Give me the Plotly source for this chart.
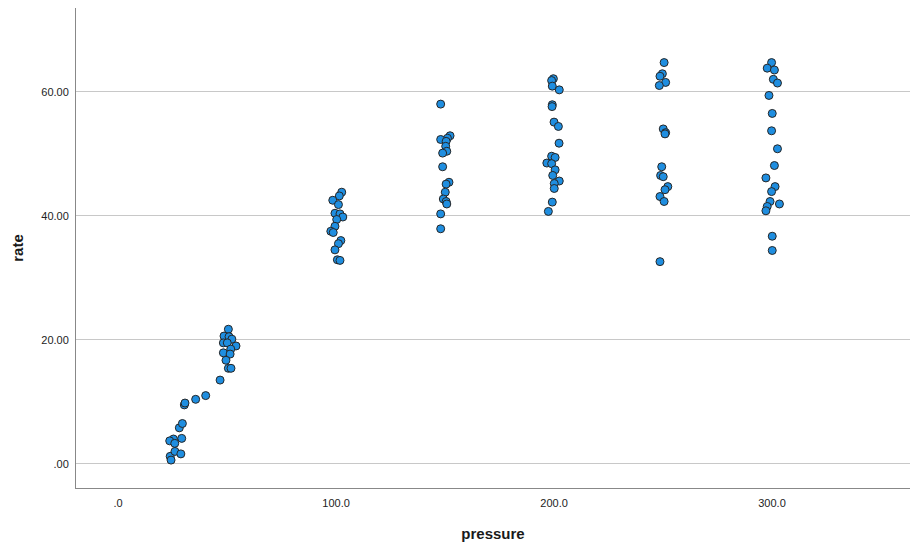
import plotly.graph_objects as go

pressure = [
    # ~25 group
    23.9, 24.3, 25.4, 26.1, 28.1, 28.8, 29.2, 29.5, 30.4, 30.7, 35.6, 40.2, 23.7, 26.0,
    # ~50 group
    46.8, 50.6, 48.6, 50.9, 52.2, 48.3, 50.1, 54.1, 51.7, 48.3, 51.4, 49.5, 50.6, 51.8,
    # 100 group
    102.6, 101.5, 98.5, 101.1, 99.5, 101.8, 103.1, 100.3, 99.5, 97.6, 98.7, 102.2, 101.1, 99.5, 100.6, 101.8,
    # 150 group
    148.0, 152.3, 151.1, 148.0, 150.5, 150.3, 150.8, 148.9, 148.9, 151.8, 150.5, 150.1, 149.2, 150.5, 150.8, 148.0, 148.0,
    # 200 group
    199.7, 198.9, 199.2, 202.4, 199.2, 199.1, 200.0, 202.0, 202.3, 198.9, 200.5, 196.7, 198.9, 200.5, 199.4, 202.4, 200.1, 200.1, 199.2, 197.4,
    # 250 group
    250.5, 249.7, 248.6, 251.2, 248.3, 250.1, 251.2, 250.9, 249.4, 248.9, 250.1, 252.2, 250.9, 248.6, 250.5, 248.6,
    # 300 group
    299.8, 297.8, 301.1, 300.6, 302.5, 298.6, 300.1, 299.8, 302.5, 301.1, 297.2, 301.4, 299.8, 299.1, 303.4, 297.8, 297.2, 300.1, 300.1,
]

rate = [
    # ~25 group
    1.2, 0.6, 4.0, 2.0, 5.8, 1.6, 4.1, 6.5, 9.5, 9.8, 10.4, 11.0, 3.7, 3.3,
    # ~50 group
    13.5, 21.7, 20.6, 20.5, 20.1, 19.5, 19.5, 19.0, 18.5, 17.9, 17.7, 16.7, 15.4, 15.4,
    # 100 group
    43.8, 43.2, 42.5, 41.8, 40.4, 40.3, 39.8, 39.4, 38.3, 37.5, 37.3, 36.0, 35.5, 34.5, 32.9, 32.8,
    # 150 group
    58.0, 52.9, 52.5, 52.3, 52.0, 51.2, 50.4, 50.1, 47.9, 45.4, 45.1, 43.8, 42.7, 42.3, 41.9, 40.3, 37.9,
    # 200 group
    62.1, 61.8, 60.9, 60.3, 57.9, 57.6, 55.1, 54.4, 51.7, 49.6, 49.4, 48.5, 48.4, 47.4, 46.5, 45.6, 45.2, 44.4, 42.2, 40.7,
    # 250 group
    64.7, 62.9, 62.5, 61.5, 61.0, 54.0, 53.4, 53.2, 47.9, 46.5, 46.3, 44.7, 44.2, 43.1, 42.3, 32.6,
    # 300 group
    64.7, 63.8, 63.5, 62.0, 61.4, 59.4, 56.5, 53.7, 50.8, 48.1, 46.1, 44.7, 43.9, 42.3, 41.9, 41.5, 40.8, 36.7, 34.4,
]

x_tickvals = [0, 100, 200, 300]
x_ticktext = [".0", "100.0", "200.0", "300.0"]
y_tickvals = [0, 20, 40, 60]
y_ticktext = [".00", "20.00", "40.00", "60.00"]

fig = go.Figure(
    go.Scatter(
        x=pressure,
        y=rate,
        mode="markers",
        marker=dict(size=8, color="#1f8ee0", line=dict(color="#262626", width=1)),
        showlegend=False,
    )
)

fig.update_layout(
    width=902,
    height=534,
    margin=dict(l=68, r=0, t=0, b=54),
    plot_bgcolor="white",
    paper_bgcolor="white",
    font=dict(family="Liberation Sans, Arial, sans-serif", color="#222222", size=11),
)

fig.update_xaxes(
    range=[-19.3, 363.3],
    tickvals=x_tickvals,
    ticktext=x_ticktext,
    showgrid=False,
    zeroline=False,
    showline=True,
    linecolor="#888888",
    linewidth=1,
    ticks="",
    ticklabelstandoff=5,
    title=dict(text="<b>pressure</b>", font=dict(size=15, color="#1a1a1a"), standoff=21),
)

fig.update_yaxes(
    range=[-3.9, 73.5],
    tickvals=y_tickvals,
    ticktext=y_ticktext,
    showgrid=True,
    gridcolor="#c8c8c8",
    gridwidth=1,
    zeroline=False,
    showline=True,
    linecolor="#888888",
    linewidth=1,
    ticks="",
    ticklabelstandoff=4,
    title=dict(text="<b>rate</b>", font=dict(size=15, color="#1a1a1a"), standoff=14),
)

fig.write_html("out.html")
